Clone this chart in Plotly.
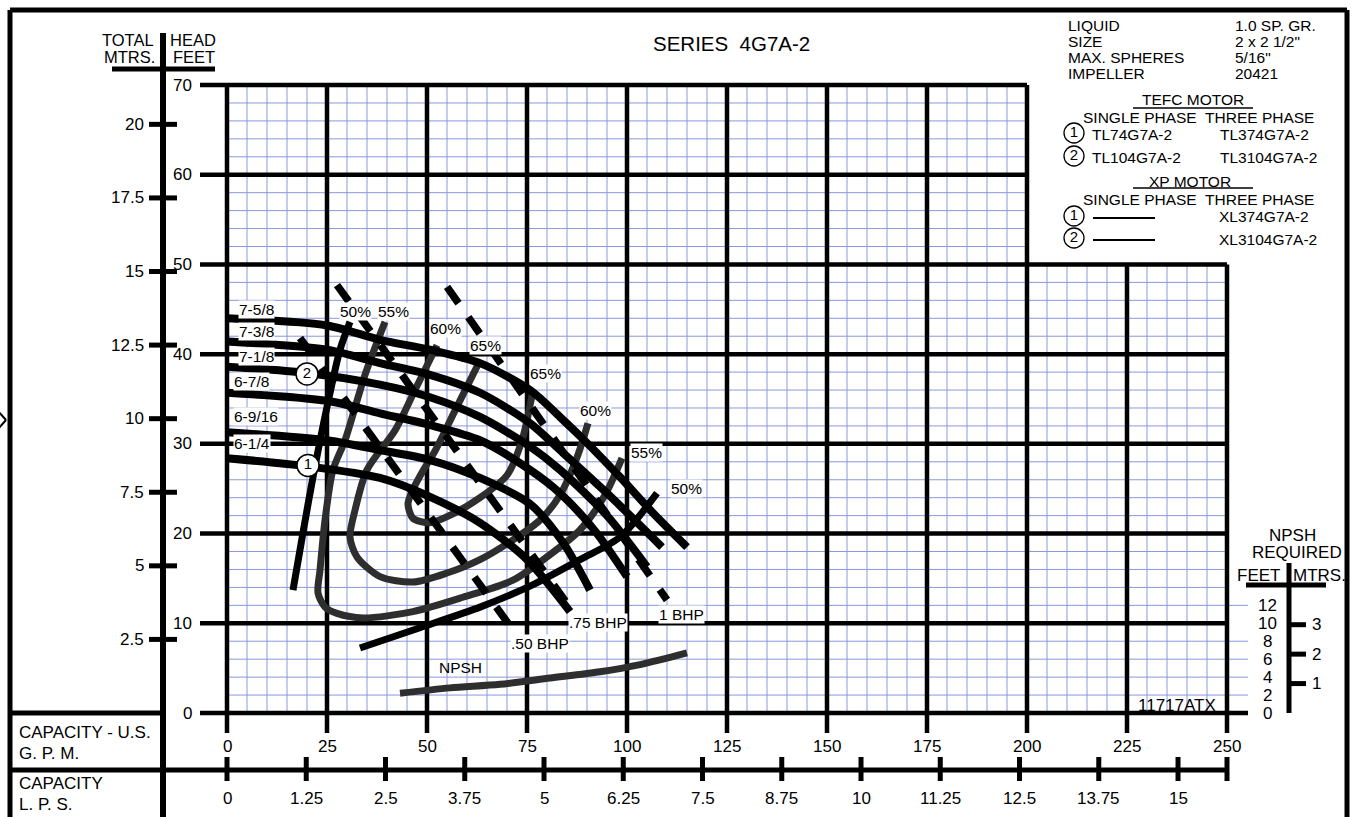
import plotly.graph_objects as go

# ---------------- data ----------------
gpm_ticks = [0, 25, 50, 75, 100, 125, 150, 175, 200, 225, 250]
lps_ticks = [0, 1.25, 2.5, 3.75, 5, 6.25, 7.5, 8.75, 10, 11.25, 12.5, 13.75, 15]
lps_labels = ["0", "1.25", "2.5", "3.75", "5", "6.25", "7.5", "8.75", "10", "11.25", "12.5", "13.75", "15"]
feet_ticks = [0, 10, 20, 30, 40, 50, 60, 70]
mtr_ticks = [2.5, 5, 7.5, 10, 12.5, 15, 17.5, 20]
mtr_labels = ["2.5", "5", "7.5", "10", "12.5", "15", "17.5", "20"]
npsh_ft_ticks = [0, 2, 4, 6, 8, 10, 12]
npsh_m_ticks = [1, 2, 3]

# impeller head curves (GPM, feet)
imp_names = ["7-5/8", "7-3/8", "7-1/8", "6-7/8", "6-9/16", "6-1/4"]
q_7_5_8 = [0, 25, 38.25, 50.75, 63.25, 75.75, 83.25, 90, 98.25, 106.5, 115]
h_7_5_8 = [44.0, 43.2, 41.6, 40.5, 39.0, 36.0, 33.0, 30.1, 26.3, 22.3, 18.5]
q_7_3_8 = [0, 25, 38.25, 50.75, 63.25, 75.75, 83.25, 95, 108.75]
h_7_3_8 = [41.4, 40.5, 39.0, 37.7, 35.7, 32.3, 29.3, 24.5, 18.5]
q_7_1_8 = [0, 20, 38.25, 50.75, 63.25, 75.75, 83.25, 95, 105]
h_7_1_8 = [38.6, 37.9, 36.6, 35.2, 33.0, 29.7, 27.1, 22.0, 16.3]
q_6_7_8 = [0, 25, 38.25, 50.75, 63.25, 75.75, 83.25, 92, 100]
h_6_7_8 = [35.7, 34.8, 33.4, 32.1, 30.4, 27.1, 24.5, 20.3, 15.2]
q_6_9_16 = [0, 25, 38.25, 50.75, 63.25, 75.75, 84, 90.75]
h_6_9_16 = [31.3, 30.4, 29.3, 28.2, 26.2, 23.3, 19.0, 13.7]
q_6_1_4 = [0, 20.25, 38.25, 50.75, 63.25, 75, 85.75]
h_6_1_4 = [28.4, 27.5, 26.2, 24.1, 21.2, 17.1, 11.3]

# efficiency contours
q_e50_left = [16.5, 19, 21.5, 25, 28.25, 30.75]
h_e50_left = [13.7, 20.1, 26.3, 34.1, 40.5, 43.6]
q_e50_right = [33.25, 48.25, 63.25, 76, 88.25, 98.25, 107.5]
h_e50_right = [7.25, 9.5, 11.8, 14.2, 17.1, 19.6, 24.5]
q_e55 = [39.5, 34.5, 29.5, 26.5, 24.5, 23.25, 22.75, 24.5, 27.5, 34, 46.5, 59, 71.5, 80, 88.25, 94.5, 98.75]
h_e55 = [43.6, 37.7, 30.4, 27.1, 21.5, 15.9, 13.4, 11.8, 11.1, 10.6, 11.3, 12.9, 14.8, 17.4, 20.4, 24.3, 28.4]
q_e60 = [52.5, 47, 42, 35, 32, 30.75, 32.5, 38.25, 46.5, 55, 63.25, 71.5, 78.25, 83.25, 87.75, 90.25]
h_e60 = [41.0, 36.0, 31.5, 27.1, 22.6, 19.6, 17.4, 15.2, 14.6, 15.6, 17.1, 19.3, 21.5, 24.3, 28.8, 32.3]
q_e65 = [63.25, 57, 52, 49, 46.25, 45.25, 46.5, 50.75, 56.5, 63.25, 70, 73.75, 76.5]
h_e65 = [39.3, 33.7, 29.2, 27.0, 24.7, 23.3, 21.7, 21.2, 22.2, 24.0, 26.5, 30.4, 36.0]

# brake horsepower lines
q_bhp050 = [18.25, 71.5]
h_bhp050 = [41.8, 9.25]
q_bhp075 = [27.5, 86.5]
h_bhp075 = [47.7, 11.3]
q_bhp100 = [55, 110]
h_bhp100 = [47.5, 12.6]

# NPSH required
q_npsh = [43.25, 55.75, 68.25, 80.75, 93.25, 103.25, 115]
h_npsh = [2.2, 2.8, 3.2, 3.9, 4.6, 5.4, 6.7]

GPM_PER_LPS = 15.8503
FT_PER_M = 3.28084

# ---------------- helpers (pixel positions for decoration only) ----------------
def X(px):
    return (px - 227) / 4.0

def Y(py):
    return (713 - py) / 8.971

FONT = "Liberation Sans, Arial, sans-serif"
BLUE = "#8a98dc"

fig = go.Figure()
shapes = []
ann = []

def line(x0, y0, x1, y1, w, color="black", layer="below"):
    shapes.append(dict(type="line", xref="x", yref="y", x0=x0, y0=y0, x1=x1, y1=y1,
                       line=dict(color=color, width=w), layer=layer))

def text(x, y, s, size=15.5, xa="center", ya="middle", bg=None):
    d = dict(x=x, y=y, xref="x", yref="y", text=s, showarrow=False, xanchor=xa, yanchor=ya,
             font=dict(family=FONT, size=size, color="black"))
    if bg:
        d["bgcolor"] = bg
        d["borderpad"] = 0
    ann.append(d)

AX = 17  # axis label font size

# minor grid
for g in range(0, 251, 5):
    if g % 25 == 0:
        continue
    top = 70 if g <= 200 else 50
    line(g, 0, g, top, 1, BLUE)
for f in range(0, 71, 2):
    if f % 10 == 0:
        continue
    right = 200 if f > 50 else 250
    if f <= 12:
        right = X(1248)
    line(0, f, right, f, 1, BLUE)

# major grid
for g in gpm_ticks:
    top = 70 if g <= 200 else 50
    line(g, Y(733), g, top, 4.5)
for f in feet_ticks:
    right = 200 if f > 50 else 250
    if f == 0:
        right = X(1248)
    line(X(200), f, right, f, 4.5)
    text(X(194), f, str(f), AX, xa="right")

# GPM labels
for g in gpm_ticks:
    text(g, Y(746), str(g), AX)

# LPS axis
line(X(8), Y(770), 250, Y(770), 5)
for l, lab in zip(lps_ticks, lps_labels):
    q = l * GPM_PER_LPS
    line(q, Y(757), q, Y(781), 5)
    text(q, Y(798), lab, AX)
line(250, Y(757), 250, Y(781), 5)

# metres axis (left)
line(X(163), Y(33), X(163), Y(817), 6)
line(X(112), Y(69), X(215), Y(69), 5)
for m, lab in zip(mtr_ticks, mtr_labels):
    f = m * FT_PER_M
    line(X(149), f, X(177), f, 5)
    text(X(146), f, lab, AX, xa="right")
text(X(156), Y(40), "TOTAL", 16.5, xa="right")
text(X(168), Y(40), "HEAD", 16.5, xa="left")
text(X(157), Y(57), "MTRS.", 16.5, xa="right")
text(X(171), Y(57), "FEET", 16.5, xa="left")

# bottom-left box
line(X(8), Y(713), X(163), Y(713), 5)
text(X(17), Y(732), "CAPACITY - U.S.", AX, xa="left")
text(X(17), Y(753), "G. P. M.", AX, xa="left")
text(X(17), Y(783), "CAPACITY", AX, xa="left")
text(X(17), Y(804), "L. P. S.", AX, xa="left")

# frame
line(X(10), Y(10), X(1347), Y(10), 5)
line(X(10), Y(10), X(10), Y(817), 5)
line(X(1347), Y(10), X(1347), Y(817), 5)
line(X(-2), Y(411), X(6), Y(420), 2)
line(X(6), Y(420), X(-2), Y(429), 2)

# NPSH axis (right)
line(X(1289), Y(563), X(1289), Y(713), 5)
line(X(1246), Y(585), X(1326), Y(585), 5)
for f in npsh_ft_ticks:
    text(X(1267), f, str(f), AX)
for m in npsh_m_ticks:
    f = m * FT_PER_M
    line(X(1289), f, X(1306), f, 5)
    text(X(1310), f, str(m), AX, xa="left")
text(X(1292), Y(535), "NPSH", AX)
text(X(1297), Y(552), "REQUIRED", AX)
text(X(1258), Y(575), "FEET", AX)
text(X(1319), Y(575), "MTRS.", AX)
text(X(1177), Y(705), "11717ATX", AX)

# title and info block
text(X(731), Y(43), "SERIES  4G7A-2", 20.5)
LG = 15.5
info = [("LIQUID", "1.0 SP. GR.", 25), ("SIZE", "2 x 2 1/2\"", 41),
        ("MAX. SPHERES", "5/16\"", 57), ("IMPELLER", "20421", 73)]
for a, b, yy in info:
    text(X(1066), Y(yy), a, LG, xa="left")
    text(X(1233), Y(yy), b, LG, xa="left")
text(X(1193), Y(99), "TEFC MOTOR", LG)
line(X(1133), Y(108), X(1253), Y(108), 1.5, layer="above")
text(X(1198), Y(117), "SINGLE PHASE  THREE PHASE", LG)
text(X(1090), Y(134), "TL74G7A-2", LG, xa="left")
text(X(1218), Y(134), "TL374G7A-2", LG, xa="left")
text(X(1090), Y(157), "TL104G7A-2", LG, xa="left")
text(X(1218), Y(157), "TL3104G7A-2", LG, xa="left")
text(X(1190), Y(181), "XP MOTOR", LG)
line(X(1133), Y(188), X(1253), Y(188), 1.5, layer="above")
text(X(1198), Y(199), "SINGLE PHASE  THREE PHASE", LG)
line(X(1093), Y(218), X(1155), Y(218), 2, layer="above")
line(X(1093), Y(240), X(1155), Y(240), 2, layer="above")
text(X(1217), Y(216), "XL374G7A-2", LG, xa="left")
text(X(1217), Y(239), "XL3104G7A-2", LG, xa="left")

# ---------------- curves ----------------
def curve(q, h, color="black", width=7, dash=None, smooth=True):
    fig.add_trace(go.Scatter(x=q, y=h, mode="lines", hoverinfo="skip", showlegend=False,
                             line=dict(color=color, width=width, dash=dash,
                                       shape="spline" if smooth else "linear", smoothing=0.8)))

GRAY = "#2e2e2e"
curve(q_e50_left, h_e50_left, "black", 7)
curve(q_e50_right, h_e50_right, "black", 7)
curve(q_e55, h_e55, GRAY, 7)
curve(q_e60, h_e60, GRAY, 7)
curve(q_e65, h_e65, GRAY, 7)
curve(q_npsh, h_npsh, GRAY, 7)

for q, h in [(q_7_5_8, h_7_5_8), (q_7_3_8, h_7_3_8), (q_7_1_8, h_7_1_8),
             (q_6_7_8, h_6_7_8), (q_6_9_16, h_6_9_16), (q_6_1_4, h_6_1_4)]:
    curve(q, h, "black", 8)

for q, h in [(q_bhp050, h_bhp050), (q_bhp075, h_bhp075), (q_bhp100, h_bhp100)]:
    curve(q, h, "black", 7.5, dash="20px,17px", smooth=False)

# motor circles on curves
fig.add_trace(go.Scatter(x=[20, 20.25], y=[37.8, 27.6], mode="markers+text", text=["2", "1"],
                         textposition="middle center", hoverinfo="skip", showlegend=False,
                         textfont=dict(family=FONT, size=15, color="black"),
                         marker=dict(size=22, color="white", line=dict(color="black", width=1.5))))
# legend circles
fig.add_trace(go.Scatter(x=[X(1074)] * 4, y=[Y(133), Y(156), Y(216), Y(238)], mode="markers+text",
                         text=["1", "2", "1", "2"], textposition="middle center", hoverinfo="skip",
                         showlegend=False, textfont=dict(family=FONT, size=15, color="black"),
                         marker=dict(size=20, color="white", line=dict(color="black", width=1.3))))

# curve labels
lab_y = [45.0, 42.5, 39.7, 36.9, 33.1, 30.0]
lab_x = [2.75, 2.75, 2.75, 1.5, 1.5, 1.5]
for n, xx, yy in zip(imp_names, lab_x, lab_y):
    text(xx, yy, n, 15.5, xa="left", bg="white")

eff_labels = [("50%", 32, 44.8), ("55%", 41.5, 44.8), ("60%", 54.5, 42.9), ("65%", 64.5, 41.0),
              ("65%", 79.5, 37.8), ("60%", 92, 33.7), ("55%", 104.75, 29.0), ("50%", 114.75, 25.0)]
for s, xx, yy in eff_labels:
    text(xx, yy, s, 15.5, bg="white")

text(78.25, 7.8, ".50 BHP", 15.5, bg="white")
text(92.75, 10.1, ".75 BHP", 15.5, bg="white")
text(113.5, 11.0, "1 BHP", 15.5, bg="white")
text(58.25, 5.1, "NPSH", 15.5)

fig.update_layout(
    width=1352, height=817, margin=dict(l=0, r=0, t=0, b=0),
    paper_bgcolor="white", plot_bgcolor="white",
    xaxis=dict(range=[X(0), X(1352)], visible=False, fixedrange=True),
    yaxis=dict(range=[Y(817), Y(0)], visible=False, fixedrange=True),
    shapes=shapes, annotations=ann, font=dict(family=FONT),
)

fig.write_html("out.html", config={"displayModeBar": False, "staticPlot": True},
               post_script="document.body.style.margin='0';document.body.style.overflow='hidden';")
